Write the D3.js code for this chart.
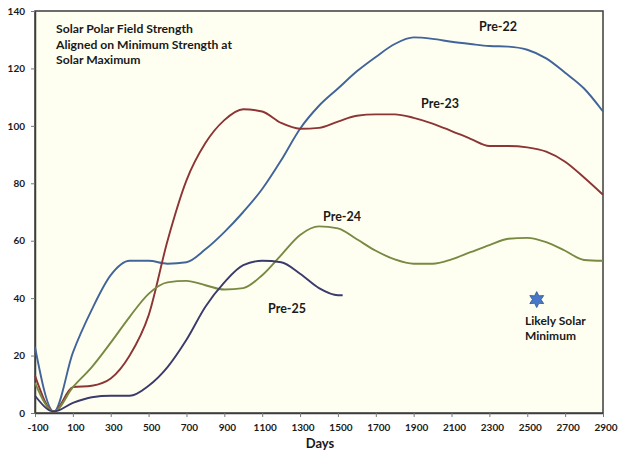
<!DOCTYPE html>
<html>
<head>
<meta charset="utf-8">
<script src="https://cdn.jsdelivr.net/npm/d3@7"></script>
<style>
  body { margin: 0; background: #fff; }
  text { font-family: Lato, "Open Sans", sans-serif; font-weight: bold; fill: #1a1a1a; }
</style>
</head>
<body>
<svg></svg>
<script>
// days since minimum
var days = [-100, 0, 100, 200, 300, 400, 500, 600, 700, 800, 900, 1000, 1100, 1200, 1300, 1400,
            1500, 1600, 1700, 1800, 1900, 2000, 2100, 2200, 2300, 2400, 2500, 2600, 2700, 2800, 2900];
var pre22 = [23, 0.5, 21, 36, 48, 53, 53, 52, 52.5, 57, 63, 70, 78, 88, 99, 107,
             113, 119, 124, 128.5, 130.8, 130.3, 129.3, 128.5, 127.8, 127.6, 126.5, 123.5, 118.5, 113, 105];
var pre23 = [13, 0.5, 9, 9.5, 12, 20, 34, 60, 81, 94, 102, 105.8, 105, 101, 99, 99.3,
             101.5, 103.5, 104, 104, 102.8, 100.8, 98.2, 95.5, 93, 93, 92.5, 91, 87.5, 82, 76];
var pre24 = [10.5, 0.5, 9, 16, 24.5, 33.5, 41.5, 45.5, 46, 44.5, 43, 43.5, 48, 55, 62, 65,
             64.3, 60.5, 56.5, 53.5, 52, 52, 53.5, 56, 58.5, 60.7, 61, 59.5, 56.5, 53.3, 53];
var days25 = [-100, 0, 100, 200, 300, 400, 500, 600, 700, 800, 900, 1000, 1100, 1200, 1300, 1400, 1500, 1525];
var pre25 = [6, 0.5, 3.5, 5.5, 6, 6, 9.5, 16, 25.5, 37, 45.5, 51.5, 53, 52.5, 48.5, 43.5, 41, 41];

var xTicks = [-100, 100, 300, 500, 700, 900, 1100, 1300, 1500, 1700, 1900, 2100, 2300, 2500, 2700, 2900];
var yTicks = [0, 20, 40, 60, 80, 100, 120, 140];

var seriesNames = ['Pre-22', 'Pre-23', 'Pre-24', 'Pre-25'];
var seriesColors = ['#41649a', '#8c3535', '#788a42', '#3a3a6c'];

var minimumPoint = [2550, 39.5];

var width = 624;
var height = 453;
var plotL = 35, plotR = 603, plotT = 11, plotB = 413;

var svg = d3.select('svg')
    .attr('width', width)
    .attr('height', height)
    .attr('xmlns', 'http://www.w3.org/2000/svg');

var x = d3.scaleLinear().domain([-100, 2900]).range([plotL, plotR]);
var y = d3.scaleLinear().domain([0, 140]).range([plotB, plotT]);

// plot background
svg.append('rect')
    .attr('x', plotL).attr('y', plotT)
    .attr('width', plotR - plotL).attr('height', plotB - plotT)
    .attr('fill', '#fffff1')
    .attr('stroke', '#3d3d3d')
    .attr('stroke-width', 1.5);

var xAxis = svg.append('g')
    .attr('transform', 'translate(0,' + plotB + ')')
    .call(d3.axisBottom(x).tickValues(xTicks)
        .tickFormat(function (d) { return String(d); })
        .tickSize(4).tickSizeOuter(0));
xAxis.selectAll('text').attr('dy', '1.1em').attr('dx', '0.25em').style('font-size', '10px');

var yAxis = svg.append('g')
    .attr('transform', 'translate(' + plotL + ',0)')
    .call(d3.axisLeft(y).tickValues(yTicks).tickSize(4).tickSizeOuter(0));
yAxis.selectAll('text').attr('dx', '-0.3em').style('font-size', '10px');

svg.selectAll('.domain').attr('stroke', '#3d3d3d').attr('stroke-width', 1.5);
svg.selectAll('.tick line').attr('stroke', '#777');

var series = [
    { name: 'Pre-22', xs: days, ys: pre22 },
    { name: 'Pre-23', xs: days, ys: pre23 },
    { name: 'Pre-24', xs: days, ys: pre24 },
    { name: 'Pre-25', xs: days25, ys: pre25 }
];

var line = d3.line()
    .x(function (d) { return x(d[0]); })
    .y(function (d) { return y(d[1]); })
    .curve(d3.curveMonotoneX);

svg.append('g').selectAll('path')
    .data(series)
    .enter()
    .append('path')
    .attr('fill', 'none')
    .attr('stroke', function (d, i) { return seriesColors[i]; })
    .attr('stroke-width', 1.9)
    .attr('d', function (d) {
        return line(d.xs.map(function (v, i) { return [v, d.ys[i]]; }));
    });

// series labels
var labelPos = [[498, 27], [440, 104], [342, 217], [287, 309]];
svg.append('g').selectAll('text')
    .data(seriesNames)
    .enter()
    .append('text')
    .attr('text-anchor', 'middle')
    .attr('dy', '0.35em')
    .style('font-size', '12.5px')
    .attr('x', function (d, i) { return labelPos[i][0]; })
    .attr('y', function (d, i) { return labelPos[i][1]; })
    .text(function (d) { return d; });

// title block
var title = ['Solar Polar Field Strength', 'Aligned on Minimum Strength at', 'Solar Maximum'];
svg.append('g').selectAll('text')
    .data(title)
    .enter()
    .append('text')
    .attr('x', 56)
    .attr('y', function (d, i) { return 29 + i * 15.5; })
    .attr('dy', '0.35em')
    .style('font-size', '12.2px')
    .text(function (d) { return d; });

// six-pointed star for likely minimum
var star = d3.path();
for (var k = 0; k < 12; k++) {
    var r = k % 2 === 0 ? 8 : 4.3;
    var a = -Math.PI / 2 + k * Math.PI / 6;
    if (k === 0) star.moveTo(r * Math.cos(a), r * Math.sin(a));
    else star.lineTo(r * Math.cos(a), r * Math.sin(a));
}
star.closePath();
svg.append('path')
    .attr('d', star.toString())
    .attr('transform', 'translate(' + x(minimumPoint[0]) + ',' + y(minimumPoint[1]) + ')')
    .attr('fill', '#4a78c8')
    .attr('stroke', '#2f4f8f')
    .attr('stroke-width', 0.8);

svg.append('text')
    .attr('x', 525).attr('y', 321).attr('dy', '0.35em')
    .style('font-size', '12px')
    .text('Likely Solar');
svg.append('text')
    .attr('x', 525).attr('y', 336).attr('dy', '0.35em')
    .style('font-size', '12px')
    .text('Minimum');

svg.append('text')
    .attr('x', 320).attr('y', 443).attr('dy', '0.35em')
    .attr('text-anchor', 'middle')
    .style('font-size', '13px')
    .text('Days');
</script>
</body>
</html>
